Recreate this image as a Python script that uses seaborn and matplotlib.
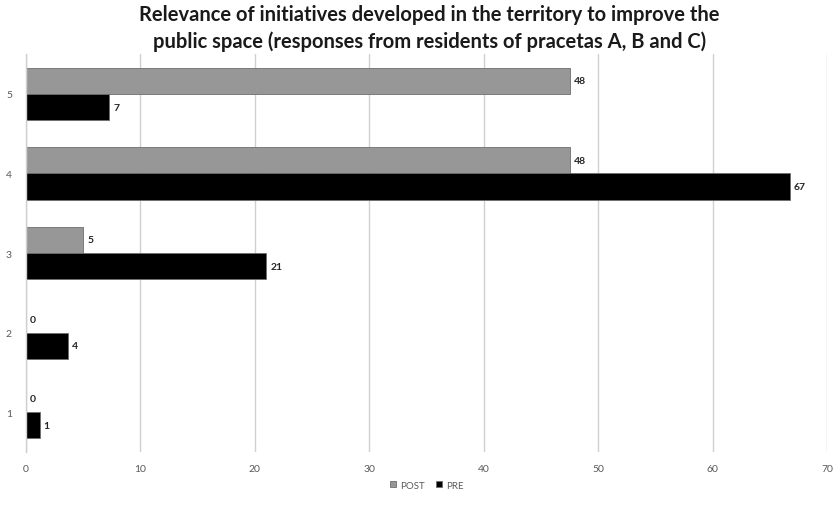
import matplotlib
matplotlib.use("Agg")
import matplotlib.pyplot as plt
import seaborn as sns
import pandas as pd

categories = ["5", "4", "3", "2", "1"]
post_values = [47.5, 47.5, 5.0, 0.0, 0.0]
pre_values = [7.3, 66.7, 21.0, 3.7, 1.2]
series_names = ["POST", "PRE"]
x_ticks = [0, 10, 20, 30, 40, 50, 60, 70]
title = ("Relevance of initiatives developed in the territory to improve the\n"
         "public space (responses from residents of pracetas A, B and C)")

rows = []
for c, v in zip(categories, post_values):
    rows.append({"cat": c, "series": "POST", "value": v})
for c, v in zip(categories, pre_values):
    rows.append({"cat": c, "series": "PRE", "value": v})
df = pd.DataFrame(rows)

sns.set_theme(style="white")
plt.rcParams["font.family"] = ["Lato", "DejaVu Sans"]

fig = plt.figure(figsize=(8.34, 5.06), dpi=100)
ax = fig.add_axes([0.031, 0.105, 0.961, 0.786])

sns.barplot(data=df, y="cat", x="value", hue="series", order=categories,
            hue_order=series_names, palette={"POST": "#979797", "PRE": "#000000"},
            orient="h", width=0.66, edgecolor="#6e6e6e", linewidth=0.6,
            ax=ax, legend=True)

for cont in ax.containers:
    ax.bar_label(cont, fmt="{:.0f}", padding=3, fontsize=7.5, fontweight="bold",
                 color="#262626")

ax.set_xlim(0, 70)
ax.set_xticks(x_ticks)
ax.set_xticklabels([str(t) for t in x_ticks])
ax.set_ylim(4.5, -0.5)
ax.grid(axis="x", color="#d0d0d0", linewidth=1.0)
ax.set_axisbelow(True)
for s in ["top", "right", "bottom"]:
    ax.spines[s].set_visible(False)
ax.spines["left"].set_color("#d0d0d0")
ax.spines["left"].set_linewidth(1.0)
ax.tick_params(axis="x", length=0, labelsize=7.5, labelcolor="#595959", pad=9)
ax.tick_params(axis="y", length=0, labelsize=7.5, labelcolor="#595959", pad=10)
ax.set_xlabel("")
ax.set_ylabel("")

handles, labels = ax.get_legend_handles_labels()
ax.legend(handles, labels, loc="upper center", bbox_to_anchor=(0.5, -0.05),
          ncol=2, frameon=False, fontsize=7, handlelength=0.6, handleheight=0.6,
          columnspacing=1.2, handletextpad=0.4, labelcolor="#595959")

fig.suptitle(title, fontsize=14.5, fontweight="bold", x=0.515, y=0.99,
             color="#1a1a1a", linespacing=1.4)

fig.savefig("out.png", dpi=100)
